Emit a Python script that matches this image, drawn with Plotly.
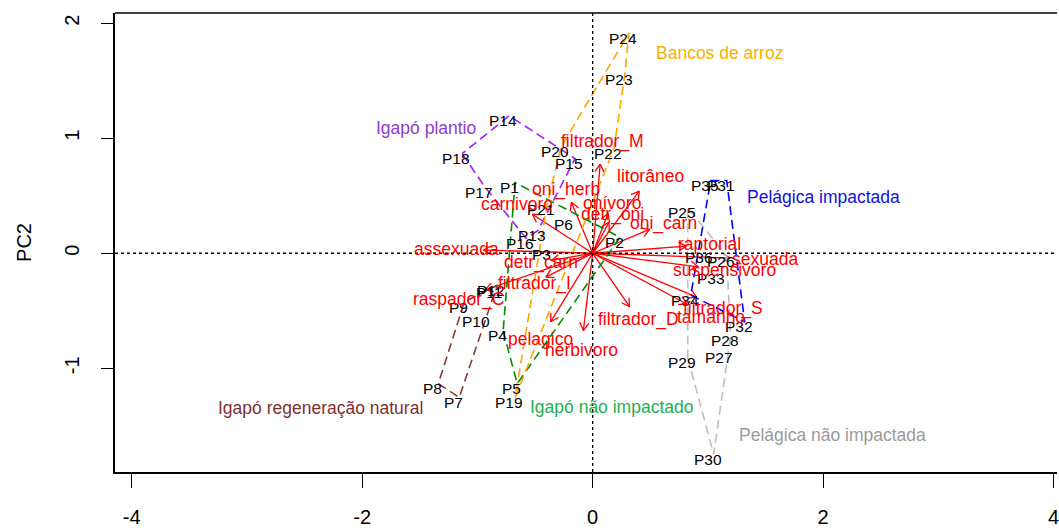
import numpy as np
import plotly.graph_objects as go

# --- sample scores on the first two principal components ---
sites = [f"P{i}" for i in range(1, 37)]
pc1 = [-0.673, 0.237, -0.396, -0.777, -0.655, -0.197,
       -1.158, -1.339, -1.114, -0.958, -0.846, -0.829,
       -0.474, -0.725, -0.153, -0.577, -0.932, -1.132,
       -0.673, -0.274, -0.396, 0.184, 0.279, 0.314,
       0.825, 1.163, 1.145, 1.197, 0.825, 1.050,
       1.163, 1.319, 1.080, 0.851, 1.024, 0.972]
pc2 = [0.615, 0.139, 0.035, -0.675, -1.134, 0.294,
       -1.255, -1.134, -0.424, -0.554, -0.294, -0.277,
       0.199, 1.195, 0.823, 0.130, 0.571, 0.866,
       -1.255, 0.926, 0.424, 0.909, 1.550, 1.913,
       0.398, -0.026, -0.866, -0.719, -0.909, -1.749,
       0.632, -0.597, -0.173, -0.364, 0.632, 0.009]

# --- habitat groups (six samples each) ---
group_names = ["Igapó não impactado", "Igapó regeneração natural", "Igapó plantio",
               "Bancos de arroz", "Pelágica não impactada", "Pelágica impactada"]
group_line_colors = ["#008B00", "#8B3A3A", "#A020F0", "#FFA500", "#BEBEBE", "#0000FF"]
group_text_colors = ["#1FAF50", "#7F2F2F", "#8E3CC8", "#F5B000", "#9A9A9A", "#1010E0"]
group_label_x = [0.167, -2.361, -1.443, 1.102, 2.081, 2.003]
group_label_y = [-1.333, -1.342, 1.091, 1.740, -1.584, 0.485]
group_of_site = [g for g in range(6) for _ in range(6)]

# --- variable loadings (label positions; arrows drawn to 0.8 of them) ---
variables = ["assexuada", "sexuada", "raptorial", "suspensivoro", "filtrador_S",
             "tamanho", "filtrador_D", "herbivoro", "pelagico", "filtrador_I",
             "detr_carn", "raspador_C", "carnivoro", "oni_herb", "onívoro",
             "detr_oni", "oni_carn", "litorâneo", "filtrador_M"]
load1 = [-1.184, 1.492, 1.016, 1.145, 1.128, 1.024, 0.401, -0.101, -0.456, -0.508,
         -0.448, -1.166, -0.655, -0.231, 0.167, 0.176, 0.617, 0.505, 0.081]
load2 = [0.035, -0.052, 0.078, -0.147, -0.476, -0.554, -0.580, -0.840, -0.745, -0.260,
         -0.078, -0.398, 0.424, 0.554, 0.433, 0.338, 0.260, 0.675, 0.970]

FONT = "Liberation Sans, Arial, Helvetica, sans-serif"
W, H = 1059, 528
ML, MR, MT, MB = 115, 0, 13, 54
X_RANGE = [-4.145, 4.029]
Y_RANGE = [-1.902, 2.089]
PX_PER_UNIT = (W - ML - MR) / (X_RANGE[1] - X_RANGE[0])


def convex_hull(points):
    pts = sorted(set(points))
    if len(pts) < 3:
        return pts

    def cross(o, a, b):
        return (a[0] - o[0]) * (b[1] - o[1]) - (a[1] - o[1]) * (b[0] - o[0])

    lower, upper = [], []
    for p in pts:
        while len(lower) >= 2 and cross(lower[-2], lower[-1], p) <= 0:
            lower.pop()
        lower.append(p)
    for p in reversed(pts):
        while len(upper) >= 2 and cross(upper[-2], upper[-1], p) <= 0:
            upper.pop()
        upper.append(p)
    return lower[:-1] + upper[:-1]


fig = go.Figure()

# variable arrows (shaft + open V head)
head = 9.0 / PX_PER_UNIT
for v, a, b in zip(variables, load1, load2):
    tx, ty = 0.8 * a, 0.8 * b
    ang = np.arctan2(ty, tx)
    xs = [0, tx]
    ys = [0, ty]
    for d in (np.pi - np.pi / 6, np.pi + np.pi / 6):
        xs += [None, tx, tx + head * np.cos(ang + d)]
        ys += [None, ty, ty + head * np.sin(ang + d)]
    fig.add_trace(go.Scatter(x=xs, y=ys, mode="lines",
                             line=dict(color="#FF0000", width=1.3),
                             hoverinfo="skip", showlegend=False))

# group hulls
for g in range(6):
    pts = [(pc1[i], pc2[i]) for i in range(36) if group_of_site[i] == g]
    hull = convex_hull(pts)
    hull = hull + [hull[0]]
    fig.add_trace(go.Scatter(x=[p[0] for p in hull], y=[p[1] for p in hull],
                             mode="lines",
                             line=dict(color=group_line_colors[g], width=1.6, dash="9px,5px"),
                             hoverinfo="skip", showlegend=False))

annotations = []
# sample labels
for s, x, y in zip(sites, pc1, pc2):
    annotations.append(dict(x=x, y=y, text=s, showarrow=False, xshift=-6, yshift=-5,
                            font=dict(family=FONT, size=15.5, color="black")))
# variable labels
for v, a, b in zip(variables, load1, load2):
    annotations.append(dict(x=a, y=b, text=v, showarrow=False,
                            font=dict(family=FONT, size=17.5, color="#FF0000")))
# group labels
for g in range(6):
    annotations.append(dict(x=group_label_x[g], y=group_label_y[g], text=group_names[g],
                            showarrow=False,
                            font=dict(family=FONT, size=17.5, color=group_text_colors[g])))

shapes = [
    dict(type="line", xref="x", yref="paper", x0=0, x1=0, y0=0, y1=1,
         line=dict(color="black", width=1.3, dash="dot")),
    dict(type="line", xref="paper", yref="y", x0=0, x1=1, y0=0, y1=0,
         line=dict(color="black", width=1.3, dash="dot")),
    dict(type="line", xref="paper", yref="paper", x0=0, x1=1, y0=1, y1=1,
         line=dict(color="black", width=1.5)),
]

fig.update_layout(
    width=W, height=H,
    margin=dict(l=ML, r=MR, t=MT, b=MB),
    paper_bgcolor="white", plot_bgcolor="white",
    font=dict(family=FONT, color="black"),
    annotations=annotations, shapes=shapes,
    showlegend=False,
)
fig.update_xaxes(range=X_RANGE, tickvals=[-4, -2, 0, 2, 4], ticktext=["-4", "-2", "0", "2", "4"],
                 showgrid=False, zeroline=False, showline=True, linecolor="black", linewidth=1.5,
                 ticks="outside", ticklen=14, tickwidth=1.3, tickcolor="black",
                 tickfont=dict(size=20, family=FONT), ticklabelstandoff=12,
                 ticklabeloverflow="allow")
fig.update_yaxes(range=Y_RANGE, tickvals=[-1, 0, 1, 2], ticktext=["-1", "0", "1", "2"],
                 showgrid=False, zeroline=False, showline=True, linecolor="black", linewidth=1.5,
                 ticks="outside", ticklen=12, tickwidth=1.3, tickcolor="black",
                 tickangle=-90, tickfont=dict(size=20, family=FONT), ticklabelstandoff=14,
                 title=dict(text="PC2", font=dict(size=20, family=FONT), standoff=24))

fig.write_html("out.html")
